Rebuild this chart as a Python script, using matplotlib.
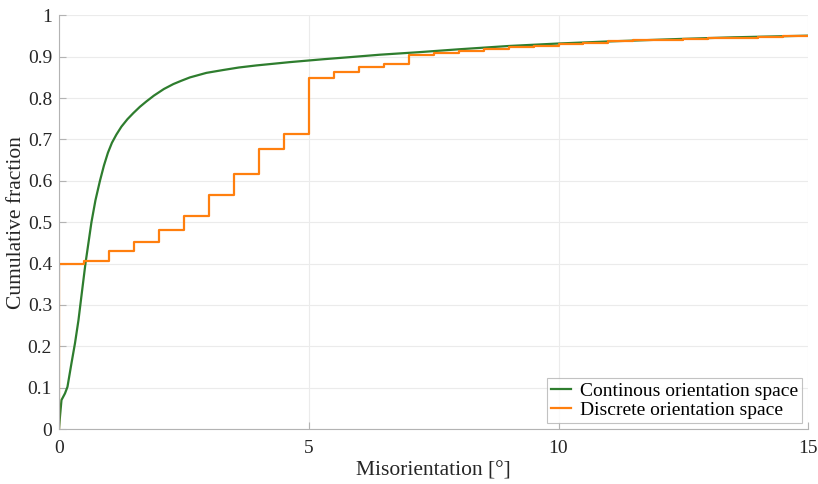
import matplotlib
matplotlib.use('Agg')
import matplotlib.pyplot as plt

# continuous orientation space: points
cont_x = [0, 0.02, 0.05, 0.12, 0.17, 0.25, 0.32, 0.39, 0.45, 0.53, 0.59, 0.65, 0.73,
          0.82, 0.9, 0.98, 1.06, 1.15, 1.25, 1.37, 1.49, 1.62, 1.75, 1.9, 2.1, 2.29,
          2.45, 2.62, 2.8, 2.95, 3.29, 3.6, 3.95, 4.62, 5.29, 5.82, 6.43, 7.2, 8.0,
          9.0, 10.0, 11.0, 12.43, 13.5, 15.0]
cont_y = [0, 0.03, 0.07, 0.086, 0.102, 0.159, 0.207, 0.263, 0.322, 0.400, 0.450, 0.500, 0.553,
          0.600, 0.637, 0.668, 0.692, 0.712, 0.731, 0.749, 0.764, 0.779, 0.792, 0.806, 0.822, 0.834,
          0.842, 0.850, 0.856, 0.861, 0.868, 0.874, 0.879, 0.887, 0.894, 0.899, 0.905, 0.911, 0.918,
          0.926, 0.932, 0.937, 0.943, 0.947, 0.951]

# discrete orientation space: step edges every 0.5 deg
disc_x = [0, 0, 0.5, 1.0, 1.5, 2.0, 2.5, 3.0, 3.5, 4.0, 4.5, 5.0, 5.5, 6.0, 6.5, 7.0,
          7.5, 8.0, 8.5, 9.0, 9.5, 10.0, 10.5, 11.0, 11.5, 12.0, 12.5, 13.0, 13.5,
          14.0, 14.5, 15.0]
disc_y = [0, 0.400, 0.406, 0.431, 0.453, 0.481, 0.515, 0.565, 0.616, 0.676, 0.713, 0.849,
          0.864, 0.876, 0.883, 0.905, 0.910, 0.915, 0.919, 0.923, 0.927, 0.931, 0.934,
          0.937, 0.940, 0.941, 0.944, 0.945, 0.946, 0.948, 0.949, 0.949]

x_ticks = [0, 5, 10, 15]
y_ticks = [0, 0.1, 0.2, 0.3, 0.4, 0.5, 0.6, 0.7, 0.8, 0.9, 1]
y_labels = ['0', '0.1', '0.2', '0.3', '0.4', '0.5', '0.6', '0.7', '0.8', '0.9', '1']

plt.rcParams['font.family'] = ['Liberation Serif', 'DejaVu Serif']

fig = plt.figure(figsize=(8.18, 4.84), dpi=100)
ax = fig.add_axes([0.0721, 0.1136, 0.916, 0.8546])

ax.plot(cont_x, cont_y, color='#2e7d2e', linewidth=1.6, solid_joinstyle='round',
        label='Continous orientation space')
ax.plot(disc_x, disc_y, color='#ff7f0e', linewidth=1.6, drawstyle='steps-post',
        label='Discrete orientation space')

ax.set_xlim(0, 15)
ax.set_ylim(0, 1)
ax.set_xticks(x_ticks)
ax.set_xticklabels([str(t) for t in x_ticks])
ax.set_yticks(y_ticks)
ax.set_yticklabels(y_labels)

ax.grid(True, color='#ebebeb', linewidth=0.8)
ax.set_axisbelow(True)
for side in ['top', 'right']:
    ax.spines[side].set_visible(False)
for side in ['left', 'bottom']:
    ax.spines[side].set_color('#b3b3b3')
    ax.spines[side].set_linewidth(0.8)
ax.tick_params(direction='in', length=5, color='#b3b3b3', labelsize=14,
               labelcolor='#262626')
ax.tick_params(axis='x', pad=8)
ax.tick_params(axis='y', pad=5)

ax.set_xlabel('Misorientation [°]', fontsize=15.5, color='#262626', labelpad=3)
ax.set_ylabel('Cumulative fraction', fontsize=15.5, color='#262626', labelpad=1)

leg = ax.legend(loc='lower right', fontsize=14, frameon=True, fancybox=False,
                handlelength=1.0, handletextpad=0.5, borderpad=0.2, labelspacing=0.1,
                borderaxespad=0.3)
leg.get_frame().set_edgecolor('#b3b3b3')
leg.get_frame().set_linewidth(0.8)

fig.savefig('out.png', dpi=100)
